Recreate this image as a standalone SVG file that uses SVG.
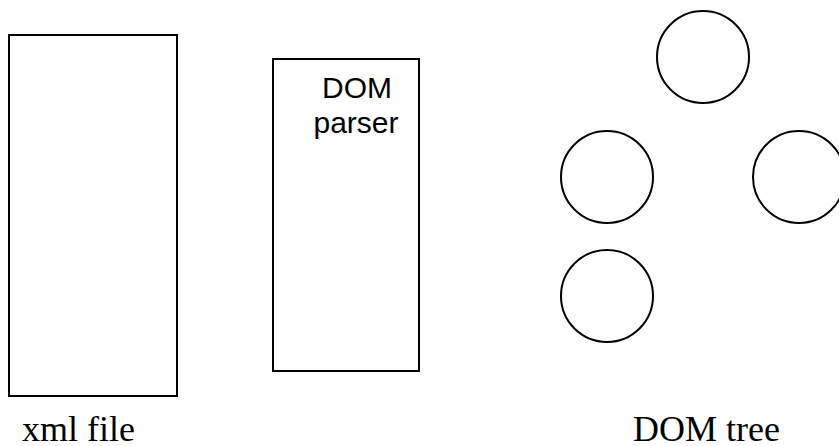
<svg xmlns="http://www.w3.org/2000/svg" width="839" height="446" viewBox="0 0 839 446">
  <style>
    .box { fill: #ffffff; stroke: #000000; stroke-width: 2; }
    .node { fill: #ffffff; stroke: #000000; stroke-width: 2; }
    .serif { font-family: "Liberation Serif", "Times New Roman", serif; font-size: 36px; fill: #000000; }
    .sans { font-family: "Liberation Sans", Arial, sans-serif; font-size: 30px; fill: #000000; text-anchor: middle; }
  </style>
  <rect width="839" height="446" fill="#ffffff"/>

  <g id="xml-file">
    <rect class="box" x="9" y="35" width="168" height="361"/>
    <text class="serif" x="22" y="441">xml file</text>
  </g>

  <g id="dom-parser">
    <rect class="box" x="273" y="59" width="146" height="312"/>
    <text class="sans" x="357" y="98">DOM</text>
    <text class="sans" x="356" y="133">parser</text>
  </g>

  <g id="dom-tree">
    <circle class="node" cx="703" cy="57" r="46"/>
    <circle class="node" cx="607" cy="177" r="46"/>
    <circle class="node" cx="799" cy="177" r="46"/>
    <circle class="node" cx="607" cy="296" r="46"/>
    <text class="serif" x="633" y="441">DOM tree</text>
  </g>

  <g id="connectors"></g>
</svg>
